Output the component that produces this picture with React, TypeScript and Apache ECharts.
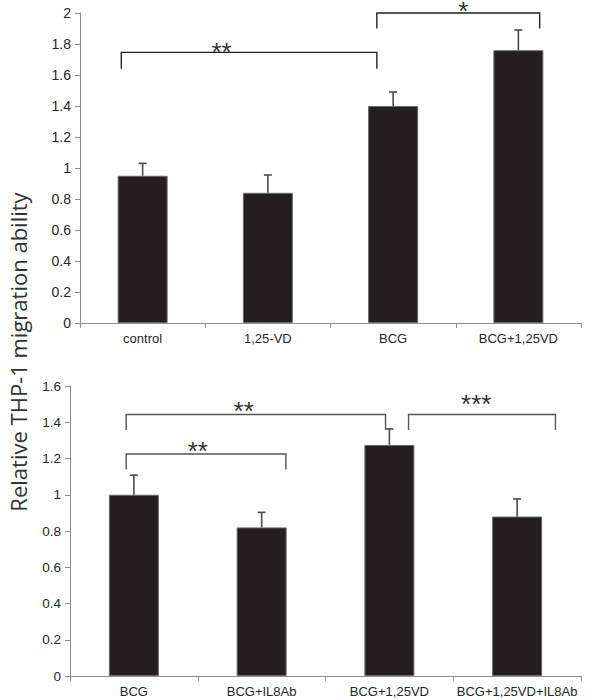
import React, { useEffect, useRef } from "react";
import * as echarts from "echarts";

// ---------- data ----------
const topCategories = ["control", "1,25-VD", "BCG", "BCG+1,25VD"];
const topValues = [0.95, 0.84, 1.4, 1.76];
const topErrors = [0.08, 0.115, 0.09, 0.13];

const bottomCategories = ["BCG", "BCG+IL8Ab", "BCG+1,25VD", "BCG+1,25VD+IL8Ab"];
const bottomValues = [1.0, 0.82, 1.275, 0.88];
const bottomErrors = [0.108, 0.083, 0.088, 0.097];

const topYTicks = [0, 0.2, 0.4, 0.6, 0.8, 1, 1.2, 1.4, 1.6, 1.8, 2];
const bottomYTicks = [0, 0.2, 0.4, 0.6, 0.8, 1, 1.2, 1.4, 1.6];

// significance brackets: from/to category index, bracket level, end-drop level, label
const topBracketFrom = [0, 2];
const topBracketTo = [2, 3];
const topBracketLevel = [1.746, 2.0];
const topBracketDrop = [1.64, 1.9];
const topBracketLabel = ["**", "*"];

const bottomBracketFrom = [0, 0, 2];
const bottomBracketTo = [2, 1, 3];
const bottomBracketLevel = [1.443, 1.225, 1.443];
const bottomBracketDrop = [1.357, 1.139, 1.357];
const bottomBracketLabel = ["**", "**", "***"];

const yTitle = "Relative THP-1 migration ability";

// ---------- layout (not data) ----------
// offsets in fractions of a category band, label offset in px above bracket
const topBracketLayout = [
  { l: -0.17, r: -0.13, sx: 0.63, sy: -6 },
  { l: -0.13, r: 0.17, sx: 0.56, sy: -7 },
];
const bottomBracketLayout = [
  { l: -0.06, r: -0.03, sx: 0.86, sy: -9 },
  { l: -0.06, r: 0.19, sx: 0.5, sy: -8 },
  { l: 0.15, r: 0.3, sx: 0.68, sy: -16 },
];

const AXIS_COLOR = "#8c8c8c";
const TEXT_COLOR = "#262626";
const FONT = "'Liberation Sans', Arial, sans-serif";

function fmt(v: number) {
  return String(parseFloat(v.toFixed(1)));
}

function makeBracketSeries(
  from: number[],
  to: number[],
  level: number[],
  drop: number[],
  labels: string[],
  layout: any[],
  axisIdx: number,
  color: string
) {
  return {
    type: "custom",
    xAxisIndex: axisIdx,
    yAxisIndex: axisIdx,
    clip: false,
    z: 5,
    silent: true,
    data: from.map((f, i) => [f, level[i], to[i], drop[i]]),
    encode: { x: 0, y: 1 },
    renderItem: (params: any, api: any) => {
      const i = params.dataIndex;
      const L = layout[i];
      const p0 = api.coord([from[i], level[i]]);
      const p1 = api.coord([to[i], level[i]]);
      const pd = api.coord([from[i], drop[i]]);
      const cw = api.size([1, 0])[0];
      const x0 = p0[0] + L.l * cw;
      const x1 = p1[0] + L.r * cw;
      const yTop = p0[1];
      const yDrop = pd[1];
      const fs = 26;
      return {
        type: "group",
        children: [
          {
            type: "polyline",
            shape: {
              points: [
                [x0, yDrop],
                [x0, yTop],
                [x1, yTop],
                [x1, yDrop],
              ],
            },
            style: { stroke: color, lineWidth: 1.4, fill: null },
          },
          {
            type: "text",
            x: p0[0] + L.sx * cw,
            y: yTop + L.sy + 0.2 * fs,
            style: {
              text: labels[i],
              fontSize: fs,
              lineHeight: 14,
              fontFamily: FONT,
              fill: "#333",
              align: "center",
              verticalAlign: "middle",
            },
          },
        ],
      };
    },
  };
}

function makeErrorSeries(values: number[], errors: number[], axisIdx: number) {
  return {
    type: "custom",
    xAxisIndex: axisIdx,
    yAxisIndex: axisIdx,
    clip: false,
    z: 4,
    silent: true,
    data: values.map((v, i) => [i, v, errors[i]]),
    encode: { x: 0, y: 1 },
    renderItem: (params: any, api: any) => {
      const i = params.dataIndex;
      const p0 = api.coord([i, values[i]]);
      const p1 = api.coord([i, values[i] + errors[i]]);
      const stroke = "#4a4a4a";
      return {
        type: "group",
        children: [
          {
            type: "line",
            shape: { x1: p0[0], y1: p0[1], x2: p1[0], y2: p1[1] },
            style: { stroke, lineWidth: 1.6 },
          },
          {
            type: "line",
            shape: { x1: p1[0] - 4, y1: p1[1], x2: p1[0] + 4, y2: p1[1] },
            style: { stroke, lineWidth: 1.6 },
          },
        ],
      };
    },
  };
}

function xAxisCfg(cats: string[], gridIndex: number) {
  return {
    type: "category",
    gridIndex,
    data: cats,
    boundaryGap: true,
    axisLine: { lineStyle: { color: AXIS_COLOR, width: 1 } },
    axisTick: { show: true, alignWithLabel: false, length: 5, lineStyle: { color: AXIS_COLOR } },
    axisLabel: { color: TEXT_COLOR, fontSize: 13, fontFamily: FONT, margin: 9, interval: 0 },
    splitLine: { show: false },
  };
}

function yAxisCfg(ticks: number[], gridIndex: number, fontSize: number) {
  return {
    type: "value",
    gridIndex,
    min: ticks[0],
    max: ticks[ticks.length - 1],
    interval: ticks[1] - ticks[0],
    axisLine: { show: true, lineStyle: { color: AXIS_COLOR, width: 1 } },
    axisTick: { show: true, length: 5, lineStyle: { color: AXIS_COLOR } },
    axisLabel: { color: TEXT_COLOR, fontSize, fontFamily: FONT, margin: 9, formatter: fmt },
    splitLine: { show: false },
  };
}

export default function App() {
  const ref = useRef<HTMLDivElement>(null);
  useEffect(() => {
    if (!ref.current) return;
    const chart = echarts.init(ref.current, undefined, { renderer: "svg" });
    const barStyle = { color: "#231f20", borderColor: "#6a6a6a", borderWidth: 1 };
    chart.setOption({
      animation: false,
      backgroundColor: "#ffffff",
      grid: [
        { left: 80, top: 13, width: 501, height: 310 },
        { left: 70, top: 386, width: 511, height: 290 },
      ],
      xAxis: [xAxisCfg(topCategories, 0), xAxisCfg(bottomCategories, 1)],
      yAxis: [yAxisCfg(topYTicks, 0, 14), yAxisCfg(bottomYTicks, 1, 13.5)],
      graphic: [
        {
          type: "text",
          x: 18,
          y: 352,
          rotation: Math.PI / 2,
          style: {
            text: yTitle,
            fontSize: 22,
            fontFamily: "'Open Sans', sans-serif",
            fill: "#333",
            align: "center",
            verticalAlign: "middle",
          },
        },
      ],
      series: [
        {
          type: "bar",
          xAxisIndex: 0,
          yAxisIndex: 0,
          data: topValues,
          barWidth: 50,
          itemStyle: barStyle,
          z: 2,
        },
        makeErrorSeries(topValues, topErrors, 0),
        makeBracketSeries(topBracketFrom, topBracketTo, topBracketLevel, topBracketDrop, topBracketLabel, topBracketLayout, 0, "#222"),
        {
          type: "bar",
          xAxisIndex: 1,
          yAxisIndex: 1,
          data: bottomValues,
          barWidth: 50,
          itemStyle: barStyle,
          z: 2,
        },
        makeErrorSeries(bottomValues, bottomErrors, 1),
        makeBracketSeries(bottomBracketFrom, bottomBracketTo, bottomBracketLevel, bottomBracketDrop, bottomBracketLabel, bottomBracketLayout, 1, "#555"),
      ],
    });
    return () => chart.dispose();
  }, []);
  return (
    <div
      ref={ref}
      style={{ position: "absolute", left: 0, top: 0, width: 605, height: 700, background: "#fff" }}
    />
  );
}
